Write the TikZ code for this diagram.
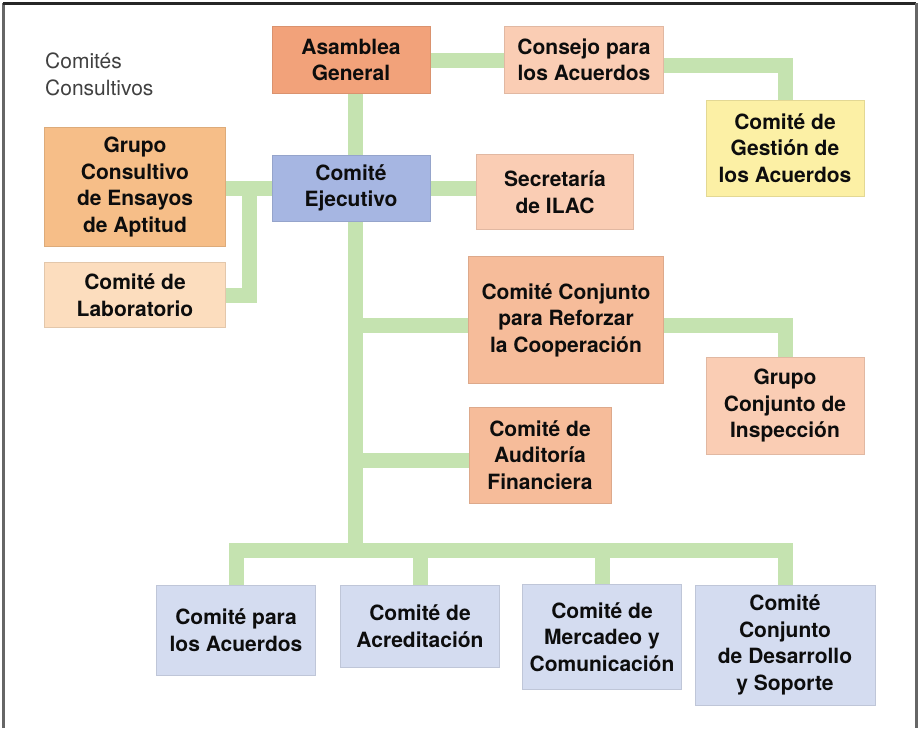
\documentclass[tikz,border=0pt]{standalone}
\usepackage{fontspec}
\setmainfont{TeX Gyre Heros}
\usetikzlibrary{backgrounds}

\definecolor{asamcol}{RGB}{242,162,122}
\definecolor{peachcol}{RGB}{250,205,180}
\definecolor{yellowcol}{RGB}{252,240,165}
\definecolor{orangecol}{RGB}{246,190,136}
\definecolor{labcol}{RGB}{252,221,190}
\definecolor{salmoncol}{RGB}{246,188,154}
\definecolor{ejecol}{RGB}{166,182,226}
\definecolor{comcol}{RGB}{212,220,240}
\definecolor{linkgreen}{RGB}{197,227,176}

\begin{document}
\begin{tikzpicture}[x=1pt, y=-1pt,
    orgbox/.style={fill=#1, draw=#1!90!black, line width=0.5pt, align=center,
      font=\bfseries\fontsize{21}{26.5}\selectfont, text=black!95, inner sep=0pt},
    conn/.style={draw=linkgreen, line width=15pt}]
  \useasboundingbox (0,0) rectangle (920,728);
  % frame
  \draw [line width=3pt, black!60] (3,728) -- (3,3);
  \draw [line width=3pt, black!85] (3,3) -- (916,3);
  \draw [line width=3pt, black!60] (916,3) -- (916,728);
  % title
  \node [anchor=base west, align=left, inner sep=0pt, text=black!75,
         font=\fontsize{21}{26.5}\selectfont] (consultivos) at (45,95) {Comités\\Consultivos};
  % top
  \node [orgbox=asamcol, minimum width=158, minimum height=67]   (asamblea)   at (351,60)  {Asamblea\\General};
  \node [orgbox=peachcol, minimum width=159, minimum height=67]  (consejo)    at (584,60)  {Consejo para\\los Acuerdos};
  \node [orgbox=yellowcol, minimum width=158, minimum height=96] (gestion)    at (785,148) {Comité de\\Gestión de\\los Acuerdos};
  % ejecutivo
  \node [orgbox=ejecol, minimum width=158, minimum height=66]    (ejecutivo)  at (351,188) {Comité\\Ejecutivo};
  \node [orgbox=peachcol, minimum width=157, minimum height=75]  (secretaria) at (555,192) {Secretaría\\de ILAC};
  % consultivos
  \node [orgbox=orangecol, minimum width=181, minimum height=119] (grupo)      at (135,187) {Grupo\\Consultivo\\de Ensayos\\de Aptitud};
  \node [orgbox=labcol, minimum width=181, minimum height=65]     (laboratorio) at (135,295) {Comité de\\Laboratorio};
  % conjunto
  \node [orgbox=salmoncol, minimum width=195, minimum height=127] (conjunto)   at (566,320) {Comité Conjunto\\para Reforzar\\la Cooperación};
  \node [orgbox=peachcol, minimum width=158, minimum height=97]   (inspeccion) at (785,406) {Grupo\\Conjunto de\\Inspección};
  \node [orgbox=salmoncol, minimum width=142, minimum height=96]  (auditoria)  at (540,455) {Comité de\\Auditoría\\Financiera};
  % bottom row
  \node [orgbox=comcol, minimum width=159, minimum height=90]  (acuerdos)     at (236,630) {Comité para\\los Acuerdos};
  \node [orgbox=comcol, minimum width=159, minimum height=82]  (acreditacion) at (420,626) {Comité de\\Acreditación};
  \node [orgbox=comcol, minimum width=159, minimum height=105] (mercadeo)     at (602,637) {Comité de\\Mercadeo y\\Comunicación};
  \node [orgbox=comcol, minimum width=180, minimum height=120] (desarrollo)   at (785,645) {Comité\\Conjunto\\de Desarrollo\\y Soporte};
  \coordinate (bus) at (355,550);
  \coordinate (labjoin) at (249,188);
  % connectors
  \begin{pgfonlayer}{background}
    \draw [conn] (asamblea) -- (consejo);
    \draw [conn] (consejo.east |- 0,65) -| (gestion.north);
    \draw [conn] (asamblea.south -| bus) -- (bus);
    \draw [conn] (ejecutivo) -- (secretaria.west |- ejecutivo);
    \draw [conn] (grupo.east |- ejecutivo) -- (ejecutivo);
    \draw [conn] (laboratorio) -| (labjoin);
    \draw [conn] (bus |- 0,325) -- (conjunto.west |- 0,325);
    \draw [conn] (conjunto.east |- 0,325) -| (inspeccion.north);
    \draw [conn] (bus |- 0,460) -- (auditoria.west |- 0,460);
    \draw [conn] (acuerdos.north) |- (bus) -| (desarrollo.north);
    \draw [conn] (acreditacion.north |- bus) -- (acreditacion.north);
    \draw [conn] (mercadeo.north |- bus) -- (mercadeo.north);
  \end{pgfonlayer}
\end{tikzpicture}
\end{document}
